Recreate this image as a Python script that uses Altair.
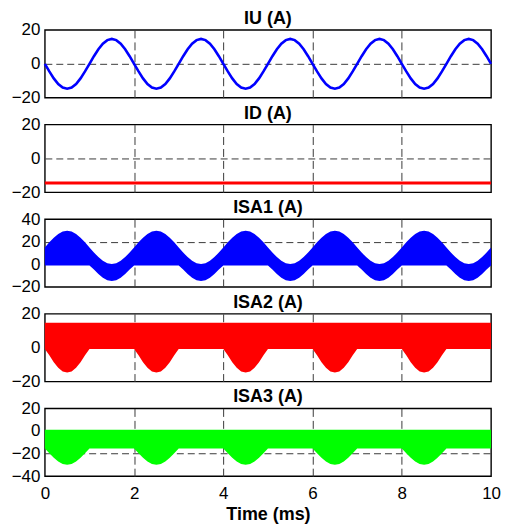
import altair as alt
import pandas as pd

STEP_MS = 0.1
N_PERIODS = 5
X_TICKS = [0, 2, 4, 6, 8, 10]

IU_PERIOD = [0, -4.5, -8.6, -11.9, -14.0, -14.7, -14.0, -11.9, -8.6, -4.5,
             0, 4.5, 8.6, 11.9, 14.0, 14.7, 14.0, 11.9, 8.6, 4.5]
ID_LEVEL = -14.5

ISA1_HI_PERIOD = [15, 19.5, 23.6, 26.9, 29.0, 29.7, 29.0, 26.9, 23.6, 19.5,
                  15, 10.5, 6.4, 3.1, 1.0, 0.3, 1.0, 3.1, 6.4, 10.5]
ISA1_LO_PERIOD = [-1, -1, -1, -1, -1, -1, -1, -1, -1, -1,
                  -1, -4.5, -8.6, -11.9, -14.0, -14.7, -14.0, -11.9, -8.6, -4.5]

ISA2_HI_PERIOD = [14.7] * 20
ISA2_LO_PERIOD = [-0.8, -4.5, -8.6, -11.9, -14.0, -14.7, -14.0, -11.9, -8.6, -4.5,
                  -0.8, -0.8, -0.8, -0.8, -0.8, -0.8, -0.8, -0.8, -0.8, -0.8]

ISA3_HI_PERIOD = [1.2] * 20
ISA3_LO_PERIOD = [-15.5, -19.8, -23.8, -27.0, -29.2, -29.9, -29.2, -27.0, -23.8, -19.8,
                  -15.5, -15.5, -15.5, -15.5, -15.5, -15.5, -15.5, -15.5, -15.5, -15.5]

TITLES = ["IU (A)", "ID (A)", "ISA1 (A)", "ISA2 (A)", "ISA3 (A)"]
Y_TICKS = [[-20, 0, 20], [-20, 0, 20], [-20, 0, 20, 40], [-20, 0, 20], [-40, -20, 0, 20]]
COLORS = ["#0000FF", "#FF0000", "#0000FF", "#FF0000", "#00FF00"]


def full(period):
    return period * N_PERIODS + [period[0]]


n = len(IU_PERIOD) * N_PERIODS + 1
df = pd.DataFrame({
    "t": [round(i * STEP_MS, 2) for i in range(n)],
    "iu": full(IU_PERIOD),
    "id": [ID_LEVEL] * n,
    "isa1_lo": full(ISA1_LO_PERIOD), "isa1_hi": full(ISA1_HI_PERIOD),
    "isa2_lo": full(ISA2_LO_PERIOD), "isa2_hi": full(ISA2_HI_PERIOD),
    "isa3_lo": full(ISA3_LO_PERIOD), "isa3_hi": full(ISA3_HI_PERIOD),
})

FONT = "Liberation Sans"
W, H = 448, 68
GRID_COLOR = "#3a3a3a"


def grid_opacity(lo, hi):
    return {"condition": {"test": f"datum.value > {lo} && datum.value < {hi}", "value": 1}, "value": 0}


def x_enc(show):
    return alt.X(
        "t:Q",
        scale=alt.Scale(domain=[0, 10], nice=False),
        axis=alt.Axis(
            values=X_TICKS, labels=show, ticks=False, domain=False, zindex=0,
            grid=True, gridDash=[8, 4], gridColor=GRID_COLOR, gridWidth=1,
            gridOpacity=grid_opacity(0, 10),
            labelFont=FONT, labelFontSize=17, labelColor="black", labelPadding=9,
            labelFlush=False,
            title="Time (ms)" if show else None,
            titleFont=FONT, titleFontSize=18, titleFontWeight="bold",
            titleColor="black", titlePadding=5,
        ),
    )


def y_axis(ticks):
    return alt.Axis(
        values=ticks, ticks=False, domain=False, title=None, zindex=0,
        grid=True, gridDash=[7, 4], gridColor=GRID_COLOR, gridWidth=1,
        gridOpacity=grid_opacity(ticks[0], ticks[-1]),
        labelFont=FONT, labelFontSize=17, labelColor="black", labelPadding=5,
        labelFlush=False,
    )


def title(txt):
    return alt.Title(txt, font=FONT, fontSize=18, fontWeight="bold", color="black", offset=-7)


def y_scale(ticks):
    return alt.Scale(domain=[ticks[0], ticks[-1]], nice=False, zero=False)


panels = []
# IU line
panels.append(
    alt.Chart(df).mark_line(color=COLORS[0], strokeWidth=2.6).encode(
        x=x_enc(False), y=alt.Y("iu:Q", scale=y_scale(Y_TICKS[0]), axis=y_axis(Y_TICKS[0]))
    ).properties(width=W, height=H, title=title(TITLES[0]))
)
# ID line
panels.append(
    alt.Chart(df).mark_line(color=COLORS[1], strokeWidth=3).encode(
        x=x_enc(False), y=alt.Y("id:Q", scale=y_scale(Y_TICKS[1]), axis=y_axis(Y_TICKS[1]))
    ).properties(width=W, height=H, title=title(TITLES[1]))
)
# switched currents as bands
for k, name in enumerate(["isa1", "isa2", "isa3"]):
    idx = k + 2
    panels.append(
        alt.Chart(df).mark_area(color=COLORS[idx], opacity=1).encode(
            x=x_enc(idx == 4),
            y=alt.Y(f"{name}_lo:Q", scale=y_scale(Y_TICKS[idx]), axis=y_axis(Y_TICKS[idx])),
            y2=f"{name}_hi:Q",
        ).properties(width=W, height=H, title=title(TITLES[idx]))
    )

chart = alt.vconcat(*panels, spacing=27, bounds="flush").properties(
    padding={"left": 2, "top": 0, "right": 0, "bottom": 0},
    background="white",
).configure_view(stroke="black", strokeWidth=1.4)

chart.save("out.html", embed_options={"renderer": "svg", "actions": False})
